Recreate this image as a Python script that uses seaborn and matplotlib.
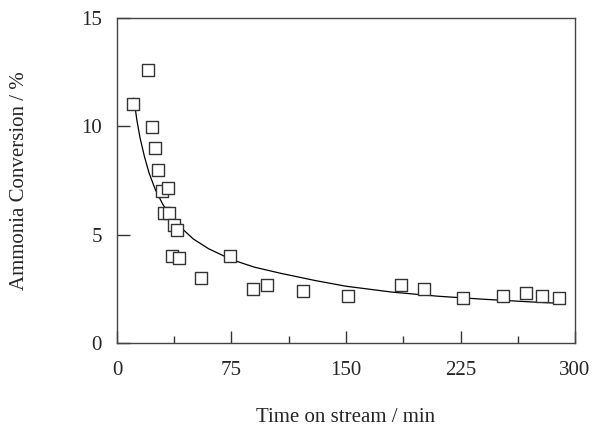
import matplotlib
matplotlib.use("Agg")
import matplotlib.pyplot as plt
import seaborn as sns
import pandas as pd
from matplotlib.ticker import MultipleLocator

# Measured points
time_min = [10.5, 20.3, 22.9, 24.9, 26.9, 29.5, 33.4, 31.0, 34.0, 37.3, 39.3,
            36.0, 40.6, 55.0, 74.0, 89.0, 98.0, 121.6, 151.5, 185.8, 201.0,
            226.4, 252.6, 267.8, 278.5, 289.7]
conversion = [11.03, 12.6, 9.97, 9.0, 7.98, 7.0, 7.15, 6.0, 6.0, 5.45, 5.2,
              4.0, 3.92, 3.0, 4.0, 2.5, 2.68, 2.4, 2.17, 2.68, 2.49,
              2.08, 2.18, 2.32, 2.17, 2.09]

# Fitted trend curve
curve_t = [11, 13, 15, 18, 21, 25, 30, 35, 40, 50, 60, 75, 90, 107, 130, 150,
           180, 210, 240, 270, 290]
curve_y = [11.3, 10.3, 9.5, 8.6, 7.85, 7.1, 6.4, 5.85, 5.45, 4.8, 4.35, 3.85,
           3.5, 3.22, 2.88, 2.62, 2.35, 2.16, 2.02, 1.9, 1.83]

x_ticks = [0, 75, 150, 225, 300]
y_ticks = [0, 5, 10, 15]

sns.set_style("ticks")
plt.rcParams['font.family'] = ['Liberation Serif', 'DejaVu Serif']

fig = plt.figure(figsize=(5.92, 4.28), dpi=100)
ax = fig.add_axes([0.1976, 0.1986, 0.9713 - 0.1976, 0.958 - 0.1986])

df_pts = pd.DataFrame({"t": time_min, "c": conversion})
df_curve = pd.DataFrame({"t": curve_t, "c": curve_y})

sns.lineplot(data=df_curve, x="t", y="c", ax=ax, color="black", linewidth=0.9,
             sort=True, zorder=2)
sns.scatterplot(data=df_pts, x="t", y="c", ax=ax, marker="s", s=72,
                facecolor="white", edgecolor="#333333", linewidth=1.0, zorder=3)

ax.set_xlim(0, 300)
ax.set_ylim(0, 15)
ax.set_xticks(x_ticks)
ax.set_yticks(y_ticks)
ax.xaxis.set_minor_locator(MultipleLocator(37.5))
ax.tick_params(axis="both", which="major", direction="in", length=9, width=1,
               color="#333333", labelsize=15)
ax.tick_params(axis="x", which="major", pad=13)
ax.tick_params(axis="y", which="major", pad=11)
ax.tick_params(axis="x", which="minor", direction="in", length=5, width=1,
               color="#333333")

for sp in ax.spines.values():
    sp.set_visible(True)
    sp.set_color("#444444")
    sp.set_linewidth(1.0)

ax.set_xlabel("")
ax.set_ylabel("")
fig.text(0.5 * (0.1976 + 0.9713), 1 - 418 / 428, "Time on stream / min",
         fontsize=15, ha="center", va="center")
fig.text(20 / 592, 0.5 * (0.1986 + 0.958), "Ammonia Conversion / %",
         fontsize=15, ha="center", va="center", rotation=90)

fig.savefig("out.png", dpi=100)
